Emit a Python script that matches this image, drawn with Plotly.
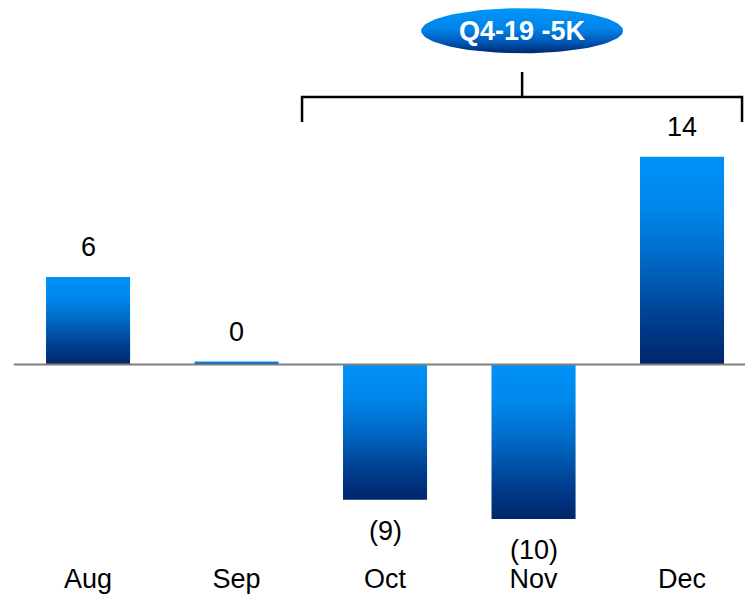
import numpy as np
import plotly.graph_objects as go

months = ["Aug", "Sep", "Oct", "Nov", "Dec"]
values = [5.9, 0.2, -9.1, -10.4, 14.0]
value_labels = ["6", "0", "(9)", "(10)", "14"]
callout_text = "Q4-19 -5K"

BAR_HALF = 0.283
FONT = "Liberation Sans, Arial, sans-serif"
grad = [[0.0, "#00266a"], [0.2, "#003c8c"], [0.5, "#0068c4"], [0.75, "#0086ea"], [1.0, "#0092f8"]]

fig = go.Figure()
for i, v in enumerate(values):
    xs = [i - BAR_HALF, i + BAR_HALF, i + BAR_HALF, i - BAR_HALF, i - BAR_HALF]
    ys = [0, 0, v, v, 0]
    fig.add_trace(go.Scatter(
        x=xs, y=ys, mode="lines", fill="toself",
        line=dict(width=0, color="rgba(0,0,0,0)"),
        fillgradient=dict(type="vertical", colorscale=grad),
        hoverinfo="skip", showlegend=False,
    ))

# data labels
for i, (v, t) in enumerate(zip(values, value_labels)):
    fig.add_annotation(x=i, y=v, text=t, showarrow=False,
                       yshift=30 if v >= 0 else -31,
                       font=dict(family=FONT, size=27, color="#000000"))

X_LO, X_HI = -0.593, 4.424
Y_LO, Y_HI = -13.16, 24.55

shapes = []
# zero line
shapes.append(dict(type="line", xref="x", yref="y", x0=-0.5, x1=X_HI, y0=0, y1=0,
                   line=dict(color="#7f7f7f", width=2), layer="above"))
# bracket over Q4 months
shapes.append(dict(type="path", xref="x", yref="y",
                   path="M 1.441 16.33 L 1.441 18.01 L 4.404 18.01 L 4.404 16.33",
                   line=dict(color="#000000", width=2.5)))
shapes.append(dict(type="line", xref="x", yref="y", x0=2.923, x1=2.923, y0=18.01, y1=19.70,
                   line=dict(color="#000000", width=2.5)))

# callout ellipse (decoration) with vertical gradient
cx, cy, rx, ry = 2.923, 22.48, 0.68, 1.52
t = np.linspace(0, 2 * np.pi, 121)
fig.add_trace(go.Scatter(
    x=cx + rx * np.cos(t), y=cy + ry * np.sin(t), mode="lines", fill="toself",
    line=dict(width=0, color="rgba(0,0,0,0)"),
    fillgradient=dict(type="vertical",
                      colorscale=[[0.0, "#00286e"], [0.25, "#0058b6"], [0.55, "#0084ea"], [1.0, "#0096fa"]]),
    hoverinfo="skip", showlegend=False,
))
fig.add_annotation(x=cx, y=cy, text="<b>" + callout_text + "</b>", showarrow=False,
                   font=dict(family=FONT, size=27, color="#ffffff"))

fig.update_layout(
    width=745, height=595,
    margin=dict(l=0, r=0, t=0, b=35),
    paper_bgcolor="white", plot_bgcolor="white",
    shapes=shapes,
    xaxis=dict(range=[X_LO, X_HI], tickvals=list(range(len(months))), ticktext=months,
               showgrid=False, zeroline=False, showline=False, ticks="",
               tickfont=dict(family=FONT, size=27, color="#000000")),
    yaxis=dict(range=[Y_LO, Y_HI], visible=False, showgrid=False, zeroline=False),
    showlegend=False,
)

fig.write_html("out.html")
